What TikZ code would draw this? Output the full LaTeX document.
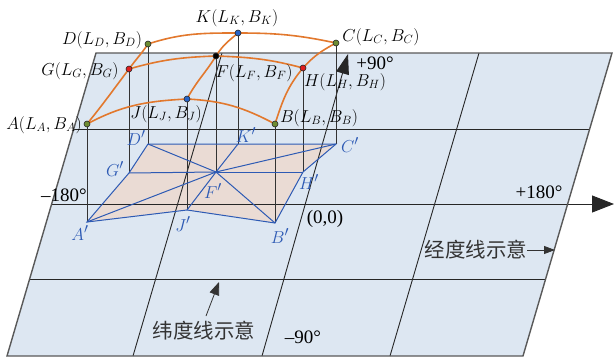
\documentclass[tikz,border=0pt]{standalone}
\usepackage{fontspec}
\setmainfont{Liberation Serif}
\newfontfamily\cjk{Noto Sans CJK SC}
\usetikzlibrary{arrows.meta}
\definecolor{planefill}{RGB}{221,231,242}
\definecolor{pinkfill}{RGB}{234,219,212}
\definecolor{bluel}{RGB}{45,90,180}
\definecolor{orangel}{RGB}{226,120,45}
\definecolor{dotgreen}{RGB}{110,140,50}
\definecolor{dotred}{RGB}{225,30,30}
\definecolor{dotblue}{RGB}{40,100,200}
\begin{document}
\begin{tikzpicture}[x=1pt,y=1pt,
  gridline/.style={draw=black!85,line width=0.9pt},
  edge/.style={draw=black!65,line width=1.4pt},
  drop/.style={draw=black!80,line width=0.8pt},
  bl/.style={draw=bluel,line width=1pt},
  arc/.style={draw=orangel,line width=1.6pt},
  dot/.style={circle,draw=black!85,line width=0.6pt,inner sep=0pt,minimum size=6pt},
  lab/.style={inner sep=0pt,font=\fontsize{17.5}{20}\selectfont},
  numlab/.style={inner sep=0pt,font=\fontsize{19}{21}\selectfont},
  blab/.style={inner sep=0pt,text=bluel,font=\fontsize{19}{21}\selectfont},
  cjklab/.style={inner sep=0pt,font=\cjk\fontsize{20.5}{22}\selectfont,text=black!80}]
\useasboundingbox (0,0) rectangle (614,-359);
% plane
\coordinate (P1) at (96,-53);
\coordinate (P2) at (612,-53);
\coordinate (P3) at (523,-356);
\coordinate (P4) at (7,-356);
\fill[planefill] (P1) -- (P2) -- (P3) -- (P4) -- cycle;
% ground points
\coordinate (Ap) at (87,-222);
\coordinate (Jp) at (187,-210);
\coordinate (Bp) at (275,-223);
\coordinate (Gp) at (129,-173);
\coordinate (Fp) at (216,-172);
\coordinate (Hp) at (303,-172);
\coordinate (Dp) at (148,-144);
\coordinate (Kp) at (238,-144);
\coordinate (Cp) at (336,-144);
\fill[pinkfill] (Ap) -- (Jp) -- (Bp) -- (Hp) -- (Cp) -- (Kp) -- (Dp) -- (Gp) -- cycle;
% grid
\coordinate (L1a) at (73.7,-129); \coordinate (L1b) at (589.7,-129);
\coordinate (L3a) at (29.6,-279); \coordinate (L3b) at (545.6,-279);
\coordinate (X0) at (51.7,-204);  \coordinate (X1) at (614,-204);
\coordinate (C1b) at (133,-356);  \coordinate (C1t) at (222,-53);
\coordinate (Yb) at (262,-356);   \coordinate (Yt) at (348,-54);
\coordinate (C3b) at (390,-356);  \coordinate (C3t) at (479,-53);
\draw[gridline] (L1a) -- (L1b);
\draw[gridline] (L3a) -- (L3b);
\draw[gridline] (C1b) -- (C1t);
\draw[gridline] (C3b) -- (C3t);
\draw[gridline,-{Triangle[length=22pt,width=17pt]}] (X0) -- (X1);
\draw[gridline,-{Triangle[length=20pt,width=13pt]}] (Yb) -- (Yt);
\draw[edge] (P1) -- (P2) -- (P3) -- (P4) -- cycle;
% space points
\coordinate (A) at (87,-124);
\coordinate (J) at (187,-99);
\coordinate (B) at (275,-124);
\coordinate (G) at (129,-69);
\coordinate (F) at (216,-56);
\coordinate (H) at (303,-68);
\coordinate (D) at (148,-44);
\coordinate (K) at (238,-33);
\coordinate (C) at (336,-43);
% drop lines
\foreach \p in {A,J,B,G,F,H,D,K,C} {\draw[drop] (\p) -- (\p p);}
% blue quadrilateral net
\draw[bl] (Ap) -- (Jp) -- (Bp) -- (Hp) -- (Cp) -- (Kp) -- (Dp) -- (Gp) -- cycle;
\foreach \p in {Ap,Jp,Bp,Hp,Cp,Kp,Dp,Gp} {\draw[bl] (Fp) -- (\p);}
% orange arcs
\draw[arc] (A) to[out=28,in=183] (J) to[out=-3,in=152] (B);
\draw[arc] (G) to[out=16,in=182] (F) to[out=-2,in=165] (H);
\draw[arc] (D) to[out=18,in=180] (K) to[out=0,in=168] (C);
\draw[arc] (A) to[out=51,in=233] (G) to[out=54,in=236] (D);
\draw[arc] (J) to[out=62,in=238] (F) to[out=58,in=220] (K);
\draw[arc] (B) to[out=72,in=230] (H) to[out=48,in=208] (C);
% dots
\node[dot,fill=dotgreen] (dA) at (A) {};
\node[dot,fill=dotgreen] (dB) at (B) {};
\node[dot,fill=dotgreen] (dC) at (C) {};
\node[dot,fill=dotgreen] (dD) at (D) {};
\node[dot,fill=dotred] (dG) at (G) {};
\node[dot,fill=dotred] (dH) at (H) {};
\node[dot,fill=dotblue] (dJ) at (J) {};
\node[dot,fill=dotblue] (dK) at (K) {};
\node[dot,fill=black] (dF) at (F) {};
% labels
\node[lab] (tA) at (44,-125) {$A(L_A, B_A)$};
\node[lab] (tJ) at (166,-114) {$J(L_J, B_J)$};
\node[lab] (tB) at (319,-118) {$B(L_B, B_B)$};
\node[lab] (tG) at (80,-71) {$G(L_G, B_G)$};
\node[lab] (tF) at (254,-73) {$F(L_F, B_F)$};
\node[lab] (tH) at (345,-82) {$H(L_H, B_H)$};
\node[lab] (tD) at (102,-40) {$D(L_D, B_D)$};
\node[lab] (tK) at (237,-18) {$K(L_K, B_K)$};
\node[lab] (tC) at (381,-37) {$C(L_C, B_C)$};
\node[numlab] (t90) at (375,-63) {+90°};
\node[numlab] (tm180) at (64,-195) {\textendash180°};
\node[numlab] (t180) at (539,-192) {+180°};
\node[numlab] (t00) at (325,-219) {(0,0)};
\node[numlab] (tm90) at (303,-337) {\textendash90°};
% blue labels
\node[blab] at (80,-233) {$A'$};
\node[blab] at (183,-224) {$J'$};
\node[blab] at (280,-236) {$B'$};
\node[blab] at (115,-169) {$G'$};
\node[blab] at (213,-191) {$F'$};
\node[blab] at (309,-182) {$H'$};
\node[blab] at (136,-138) {$D'$};
\node[blab] at (246,-135) {$K'$};
\node[blab] at (350,-145) {$C'$};
% chinese notes
\node[cjklab] (jd) at (476,-250) {经度线示意};
\coordinate (jdt) at (555,-250);
\draw[drop,-{Triangle[length=11pt,width=8pt]}] (jd.east) -- (jdt);
\node[cjklab] (wd) at (204,-331) {纬度线示意};
\coordinate (wds) at (206,-316);
\coordinate (wdt) at (219,-282);
\draw[drop,-{Triangle[length=13pt,width=10pt]}] (wds) -- (wdt);
\end{tikzpicture}
\end{document}
